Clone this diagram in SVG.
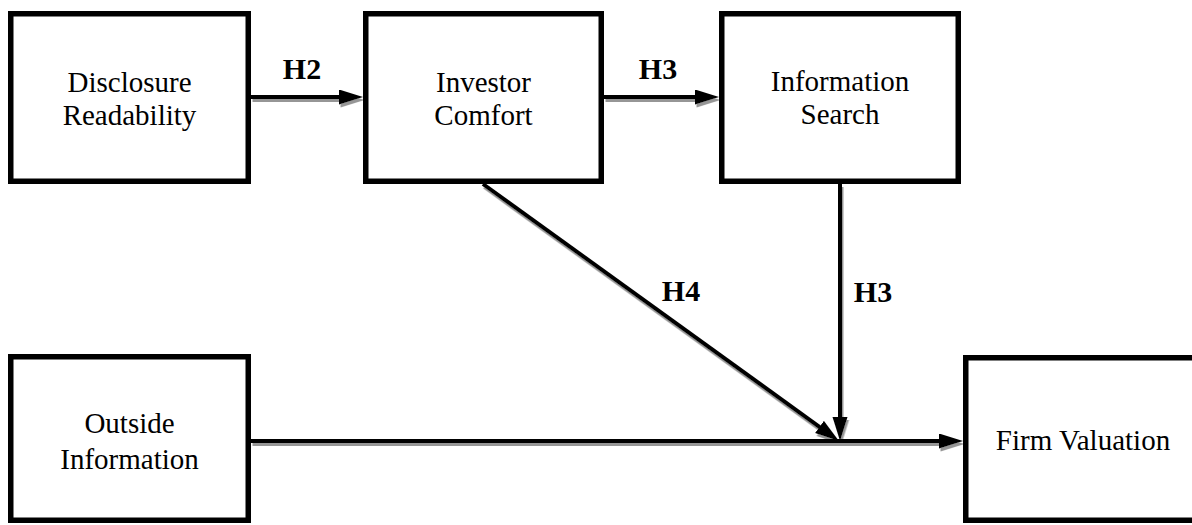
<svg xmlns="http://www.w3.org/2000/svg" width="1192" height="525" viewBox="0 0 1192 525">
  <style>
    .box { fill: #ffffff; stroke: #000000; stroke-width: 5.5; }
    .label { font-size: 29px; fill: #000000; text-anchor: middle; }
    .hyp { font-size: 30px; font-weight: bold; fill: #000000; text-anchor: middle; }
    .edge { stroke: #000000; stroke-width: 4; fill: none; marker-end: url(#arrow); }
  </style>
  <defs>
    <marker id="arrow" markerUnits="userSpaceOnUse" markerWidth="24" markerHeight="16" refX="16" refY="7.5" orient="auto">
      <path d="M0,0 L24,7.5 L0,15 z" fill="#000000"/>
    </marker>
    <filter id="shade" x="-5%" y="-5%" width="110%" height="120%">
      <feDropShadow dx="1.5" dy="3" stdDeviation="0.6" flood-color="#8a8a8a" flood-opacity="0.9"/>
    </filter>
  </defs>

  <rect width="1192" height="525" fill="#ffffff"/>

  <!-- connectors -->
  <g id="connectors" filter="url(#shade)">
    <line class="edge" x1="251" y1="97" x2="355" y2="97"/>
    <line class="edge" x1="604" y1="97" x2="711" y2="97"/>
    <line class="edge" x1="840" y1="184" x2="840" y2="433"/>
    <line class="edge" x1="483" y1="184" x2="832.5" y2="436.3"/>
    <line class="edge" x1="251" y1="441" x2="955" y2="441"/>
  </g>

  <g font-family="'Liberation Serif', Tinos, 'Times New Roman', 'DejaVu Serif', serif">
    <!-- hypothesis labels -->
    <g id="labels">
      <text class="hyp" x="302" y="79">H2</text>
      <text class="hyp" x="658" y="79">H3</text>
      <text class="hyp" x="681" y="301">H4</text>
      <text class="hyp" x="873" y="302">H3</text>
    </g>

    <g id="disclosure-readability">
      <rect class="box" x="10.75" y="13.75" width="237.5" height="167.5"/>
      <text class="label" x="129.5" y="92">Disclosure</text>
      <text class="label" x="129.5" y="125">Readability</text>
    </g>

    <g id="investor-comfort">
      <rect class="box" x="365.75" y="13.75" width="235.5" height="167.5"/>
      <text class="label" x="483.5" y="92">Investor</text>
      <text class="label" x="483.5" y="125">Comfort</text>
    </g>

    <g id="information-search">
      <rect class="box" x="721.75" y="13.75" width="236.5" height="167.5"/>
      <text class="label" x="840" y="91">Information</text>
      <text class="label" x="840" y="124">Search</text>
    </g>

    <g id="outside-information">
      <rect class="box" x="10.75" y="356.75" width="237.5" height="163.5"/>
      <text class="label" x="129.5" y="433">Outside</text>
      <text class="label" x="129.5" y="469">Information</text>
    </g>

    <g id="firm-valuation">
      <rect class="box" x="965.75" y="357.75" width="240" height="162.5"/>
      <text class="label" x="1083" y="450">Firm Valuation</text>
    </g>
  </g>
</svg>
